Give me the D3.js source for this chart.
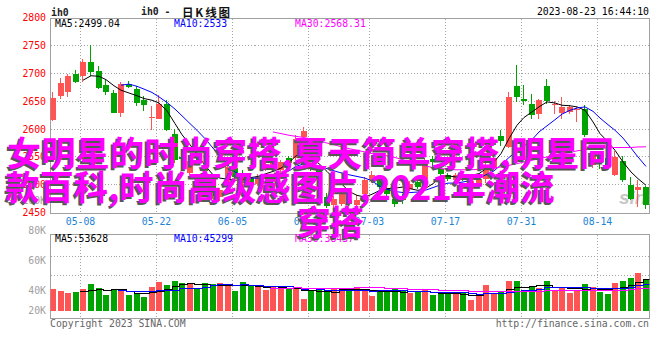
<!DOCTYPE html>
<html lang="zh-CN">
<head>
<meta charset="utf-8">
<title>ih0 - 日K线图</title>
<script src="https://cdn.jsdelivr.net/npm/d3@7/dist/d3.min.js"></script>
<style>
  html, body { margin:0; padding:0; background:#ffffff; }
  svg { display:block; }
</style>
</head>
<body>
<svg id="chart" width="660" height="360" viewBox="0 0 660 360"></svg>
<script>
// ---------------- data ----------------
const dates = ["04-27","04-28","05-04","05-05","05-08","05-09","05-10","05-11","05-12","05-15","05-16","05-17","05-18","05-19","05-22","05-23","05-24","05-25","05-26","05-29","05-30","05-31","06-01","06-02","06-05","06-06","06-07","06-08","06-09","06-12","06-13","06-14","06-15","06-16","06-19","06-20","06-21","06-26","06-27","06-28","06-29","06-30","07-03","07-04","07-05","07-06","07-07","07-10","07-11","07-12","07-13","07-14","07-17","07-18","07-19","07-20","07-21","07-24","07-25","07-26","07-27","07-28","07-31","08-01","08-02","08-03","08-04","08-07","08-08","08-09","08-10","08-11","08-14","08-15","08-16","08-17","08-18","08-21","08-22"];

const open = [2617,2659,2666,2699,2695,2720,2704,2680,2665,2629,
  2681,2672,2653,2620,2618,2645,2592,2550,2522,2556,
  2536,2515,2478,2505,2530,2520,2512,2502,2529,2532,
  2526,2548,2548,2586,2539,2530,2478,2463,2466,2472,
  2463,2484,2508,2514,2493,2475,2480,2493,2505,2511,
  2547,2529,2517,2508,2520,2500,2500,2510,2530,2587,
  2568,2677,2655,2645,2628,2677,2643,2629,2631,2636,
  2637,2535,2552,2548,2517,2542,2499,2491,2496];
const high = [2667,2692,2700,2707,2726,2751,2713,2688,2671,2684,
  2687,2677,2659,2641,2661,2653,2600,2562,2553,2560,
  2540,2520,2494,2536,2535,2526,2516,2520,2542,2546,
  2545,2552,2590,2603,2546,2534,2485,2480,2492,2476,
  2482,2514,2524,2518,2498,2486,2484,2506,2510,2548,
  2552,2534,2522,2522,2524,2510,2512,2540,2552,2598,
  2667,2715,2679,2664,2655,2691,2650,2658,2643,2640,
  2643,2557,2556,2552,2560,2551,2514,2508,2497];
const low = [2614,2655,2657,2683,2685,2696,2672,2662,2629,2622,
  2674,2642,2632,2598,2618,2597,2540,2526,2514,2540,
  2518,2474,2470,2500,2508,2498,2494,2498,2524,2528,
  2522,2535,2544,2582,2525,2508,2458,2458,2462,2462,
  2458,2480,2504,2492,2478,2460,2466,2488,2492,2508,
  2530,2516,2506,2504,2506,2496,2494,2504,2526,2569,
  2566,2649,2643,2619,2619,2646,2628,2619,2628,2613,
  2586,2530,2528,2528,2515,2505,2473,2460,2457];
const close = [2656,2683,2695,2685,2720,2702,2674,2666,2629,2681,
  2675,2647,2644,2621,2646,2598,2545,2547,2542,2548,
  2524,2480,2490,2532,2514,2503,2500,2514,2538,2541,
  2541,2540,2583,2597,2530,2510,2462,2475,2484,2466,
  2473,2508,2517,2496,2484,2466,2472,2502,2496,2541,
  2541,2520,2511,2517,2511,2506,2510,2534,2548,2579,
  2658,2658,2651,2625,2652,2651,2646,2640,2640,2637,
  2589,2553,2540,2532,2550,2508,2475,2496,2463];
const volume = [36900,33500,30700,31800,36900,45800,38600,26800,34600,36900,
  26800,27900,23500,40200,48500,44100,50300,46900,45800,36300,
  46900,45800,46900,45800,33500,48500,41300,40200,35700,41300,
  39100,39100,38000,20100,35700,34600,35700,36900,38600,36900,
  38600,36900,25700,31300,33000,36900,33500,30100,31300,35000,
  26800,31300,28500,28500,31300,18400,29100,43000,27900,33500,
  51000,50000,35700,40000,39000,50000,35700,39000,30100,35700,
  45800,41000,32400,29100,46900,50300,56000,63000,51500];

// price moving-average lines (null = not drawn yet)
const ma5 = Array(4).fill(null).concat([2688,2696,2695,2689,2678,2670,2665,2660,2655,2652,2647,2633,2610,2590,2572,2555,2535,2518,2512,2510,2508,2510,2513,2515,2520,2524,2530,2540,2552,2556,2548,2538,2524,2511,2501,2488,2481,2478,2483,2490,2493,2494,2496,2493,2490,2493,2502,2515,2516,2514,2514,2517,2520,2529,2541,2556,2583,2607,2621,2631,2640,2649,2647,2643,2642,2640,2634,2613,2592,2577,2562,2541,2523,2511,2499.04]);
const ma10 = Array(9).fill(null).concat([2679,2681,2677,2672,2666,2658,2648,2636,2624,2610,
  2598,2583,2566,2550,2535,2523,2516,2512,2512,2513,
  2515,2519,2525,2533,2538,2537,2534,2529,2525,2521,
  2518,2515,2512,2507,2497,2492,2488,2486,2486,2487,
  2490,2495,2500,2503,2503,2505,2508,2512,2518,2525,
  2536,2549,2561,2570,2581,2595,2606,2617,2627,2634,
  2638,2640,2632,2620,2608,2598,2584,2566,2550,2533]);
const ma30 = Array(29).fill(null).concat([2595,2592,2589,2587,2585,2582,2579,2575,2572,2568,
  2565,2562,2559,2556,2554,2552,2549,2545,2541,2537,
  2534,2531,2529,2528,2527,2527,2527,2528,2529,2530,
  2532,2535,2538,2541,2544,2547,2550,2553,2556,2558,
  2561,2563,2565,2566,2566,2567,2567,2567,2568,2568.31]);

const priceTicks = [2800,2750,2700,2650,2600,2550,2500,2450];
const priceGrid = [2750,2700,2650,2600,2550,2500];
const volTickLabels = ["100K","80K","60K","40K","20K"];
const volTickValues = [100000,80000,60000,40000,20000];
const dateTicks = ["05-08","05-22","06-05","06-19","07-03","07-17","07-31","08-14"];
const priceMaLabels = ["MA5:2499.04","MA10:2533","MA30:2568.31"];
const volMaLabels = ["MA5:53628","MA10:45299","MA30:38437"];
const symbol = "ih0";
const titleCn = "日K线图";
const timestamp = "2023-08-23 16:44:10";
const copyrightLeft = "Copyright 2023 SINA.COM";
const copyrightRight = "http://finance.sina.com.cn";
const overlayLines = ["女明星的时尚穿搭,夏天简单穿搭,明星同","款百科,时尚高级感图片,2021年潮流","穿搭"];

// ---------------- drawing ----------------
const svg = d3.select("#chart");
const MONO = "'DejaVu Sans Mono','Liberation Mono',monospace";
const CJK = "'Noto Sans CJK SC','Noto Sans CJK JP',sans-serif";
const UP = "#ff5454", DOWN = "#00a400", GRID = "#a4a4a4", FRAME = "#a0a0a0";
const MA_COL = ["#000000", "#0000ff", "#ff00ff"];

const n = dates.length;
const x = d3.scaleBand().domain(d3.range(n)).range([50, 648.8]).paddingInner(1.6 / 7.6).paddingOuter(0);
const xl = i => Math.round(x(i));
const bw = Math.round(x.bandwidth());
const yP = d3.scaleLinear().domain([2450, 2800]).range([212.6, 17.9]);
const yV = d3.scaleLinear().domain([0, 130000]).range([311, 233.5]);
const yVolLabel = d3.scaleLinear().domain([100000, 40000]).range([200.7, 290.7]);

const L = 50.5, R = 649.5, pTop = 18.5, pBot = 213.5, vTop = 234.5, vBot = 318.5;

svg.append("rect").attr("width", 660).attr("height", 360).attr("fill", "#fff");

const defs = svg.append("defs");
defs.append("clipPath").attr("id", "pclip").append("rect")
  .attr("x", L).attr("y", pTop).attr("width", R - L).attr("height", pBot - pTop);
defs.append("clipPath").attr("id", "vclip").append("rect")
  .attr("x", L).attr("y", vTop).attr("width", R - L).attr("height", vBot - vTop);

// grid
const grid = svg.append("g").attr("shape-rendering", "crispEdges").attr("stroke", GRID).attr("stroke-dasharray", "1,2");
grid.selectAll("line.hp").data(priceGrid).join("line").attr("class", "hp")
  .attr("x1", L).attr("x2", R)
  .attr("y1", d => Math.floor(yP(d)) + 0.5).attr("y2", d => Math.floor(yP(d)) + 0.5);
const volGridFrac = [0.25, 0.485];
grid.selectAll("line.hv").data(volGridFrac).join("line").attr("class", "hv")
  .attr("x1", L).attr("x2", R)
  .attr("y1", f => Math.round(vTop + (vBot - vTop) * f) + 0.5)
  .attr("y2", f => Math.round(vTop + (vBot - vTop) * f) + 0.5);
const tickIdx = dateTicks.map(t => dates.indexOf(t));
grid.selectAll("line.vp").data(tickIdx).join("line").attr("class", "vp")
  .attr("x1", i => xl(i) + 0.5).attr("x2", i => xl(i) + 0.5).attr("y1", pTop).attr("y2", pBot);
grid.selectAll("line.vv").data(tickIdx).join("line").attr("class", "vv")
  .attr("x1", i => xl(i) + 0.5).attr("x2", i => xl(i) + 0.5).attr("y1", vTop).attr("y2", vBot);

// frames
const frames = svg.append("g").attr("shape-rendering", "crispEdges").attr("fill", "none").attr("stroke", FRAME);
frames.append("rect").attr("x", L).attr("y", pTop).attr("width", R - L).attr("height", pBot - pTop);
frames.append("rect").attr("x", L).attr("y", vTop).attr("width", R - L).attr("height", vBot - vTop);

// watermark
svg.append("text").attr("clip-path", "url(#pclip)")
  .attr("x", 619).attr("y", 204).attr("font-family", "'Liberation Sans',Arial,sans-serif")
  .attr("font-size", 19).attr("font-weight", 700).attr("font-style", "italic")
  .attr("fill", "#c6c6c6").text("sina");

// candles
const idx = d3.range(n);
const isUp = i => close[i] >= open[i];
const cg = svg.append("g").attr("shape-rendering", "crispEdges").attr("clip-path", "url(#pclip)");
cg.selectAll("rect.wick").data(idx).join("rect").attr("class", "wick")
  .attr("x", i => xl(i) + 2).attr("width", 1)
  .attr("y", i => Math.round(yP(high[i])))
  .attr("height", i => Math.max(1, Math.round(yP(low[i])) - Math.round(yP(high[i]))))
  .attr("fill", i => isUp(i) ? UP : DOWN);
cg.selectAll("rect.body").data(idx).join("rect").attr("class", "body")
  .attr("x", i => xl(i)).attr("width", bw)
  .attr("y", i => Math.round(yP(Math.max(open[i], close[i]))))
  .attr("height", i => Math.max(1, Math.round(yP(Math.min(open[i], close[i]))) - Math.round(yP(Math.max(open[i], close[i])))))
  .attr("fill", i => isUp(i) ? UP : DOWN);

// price MA lines
const maLine = d3.line().defined(d => d[1] != null)
  .x(d => xl(d[0]) + 3).y(d => yP(d[1]));
[ma5, ma10, ma30].forEach((arr, k) => {
  svg.append("path").attr("clip-path", "url(#pclip)")
    .attr("d", maLine(arr.map((v, i) => [i, v])))
    .attr("fill", "none").attr("stroke", MA_COL[k]).attr("stroke-width", 1);
});

// volume bars
const vg = svg.append("g").attr("shape-rendering", "crispEdges").attr("clip-path", "url(#vclip)");
vg.selectAll("rect.vol").data(idx).join("rect").attr("class", "vol")
  .attr("x", i => xl(i)).attr("width", bw)
  .attr("y", i => Math.round(yV(volume[i])))
  .attr("height", i => Math.round(yV(0)) - Math.round(yV(volume[i])))
  .attr("fill", i => isUp(i) ? UP : DOWN);

// volume MA step lines (moving averages of the volume series)
function movingAvg(arr, p) {
  return arr.map((_, i) => i < p - 1 ? null : d3.mean(arr.slice(i - p + 1, i + 1)));
}
const stepLine = d3.line().curve(d3.curveStepAfter)
  .x(d => d[0]).y(d => Math.round(yV(d[1])) + 0.5);
[5, 10, 30].forEach((p, k) => {
  const m = movingAvg(volume, p);
  const pts = [];
  m.forEach((v, i) => { if (v != null) pts.push([xl(i), v]); });
  pts.push([xl(n - 1) + x.step(), m[n - 1]]);
  vg.append("path").attr("d", stepLine(pts)).attr("fill", "none")
    .attr("stroke", MA_COL[k]).attr("stroke-width", 1);
});

// ---------------- texts ----------------
const T = svg.append("g").attr("font-family", MONO).attr("font-size", 9.8).attr("dominant-baseline", "central");

// price axis labels
T.selectAll("text.pl").data(priceTicks).join("text").attr("class", "pl")
  .attr("x", 46).attr("y", d => yP(d)).attr("text-anchor", "end").attr("fill", "#ff0000")
  .text(d => d);
// volume axis labels
T.selectAll("text.vl").data(volTickValues).join("text").attr("class", "vl")
  .attr("x", 46).attr("y", d => Math.min(yVolLabel(d), 310.7)).attr("text-anchor", "end").attr("fill", "#a0a0a0")
  .text((d, i) => volTickLabels[i]);
// date labels
T.selectAll("text.dl").data(tickIdx).join("text").attr("class", "dl")
  .attr("x", i => xl(i) + 0.5).attr("y", 221.7).attr("text-anchor", "middle").attr("fill", "#1c84d6")
  .text((i, k) => dateTicks[k]);
// MA headers
const maX = [55, 174, 295];
priceMaLabels.forEach((t, k) => T.append("text").attr("x", maX[k]).attr("y", 23.8).attr("fill", MA_COL[k]).text(t));
volMaLabels.forEach((t, k) => T.append("text").attr("x", maX[k]).attr("y", 238.6).attr("fill", MA_COL[k]).text(t));
// top line
T.append("text").attr("x", 51).attr("y", 12).attr("font-weight", 700).attr("fill", "#222").text(symbol);
T.append("text").attr("x", 141).attr("y", 11.5).attr("font-weight", 700).attr("fill", "#222").text(symbol);
T.append("text").attr("x", 167.5).attr("y", 11.5).attr("text-anchor", "middle").attr("font-weight", 700).attr("fill", "#222").text("-");
T.append("text").attr("x", 182).attr("y", 11.5).attr("font-family", CJK).attr("font-size", 11.5)
  .attr("font-weight", 700).attr("fill", "#111").attr("textLength", 48).attr("lengthAdjust", "spacing").text(titleCn);
T.append("text").attr("x", 649).attr("y", 11).attr("text-anchor", "end").attr("fill", "#000").text(timestamp);
// copyright
T.append("text").attr("x", 50).attr("y", 323.7).attr("fill", "#666").text(copyrightLeft);
T.append("text").attr("x", 649).attr("y", 323.7).attr("text-anchor", "end").attr("fill", "#666").text(copyrightRight);

// ---------------- overlay headline ----------------
const ov = svg.append("g").attr("font-family", CJK).attr("font-weight", 700).attr("font-size", 34)
  .attr("dominant-baseline", "central");
const linePos = [
  {x: 7, y: 151, len: 607},
  {x: 5.5, y: 185.5, len: 549},
  {x: 297, y: 220, len: 67}
];
overlayLines.forEach((t, k) => {
  const p = linePos[k];
  ov.append("text").attr("x", p.x - 2).attr("y", p.y + 2).attr("fill", "#575757")
    .attr("textLength", p.len).attr("lengthAdjust", "spacing").text(t);
});
overlayLines.forEach((t, k) => {
  const p = linePos[k];
  ov.append("text").attr("x", p.x).attr("y", p.y).attr("fill", "#ff00ff")
    .attr("textLength", p.len).attr("lengthAdjust", "spacing").text(t);
});
</script>
</body>
</html>
